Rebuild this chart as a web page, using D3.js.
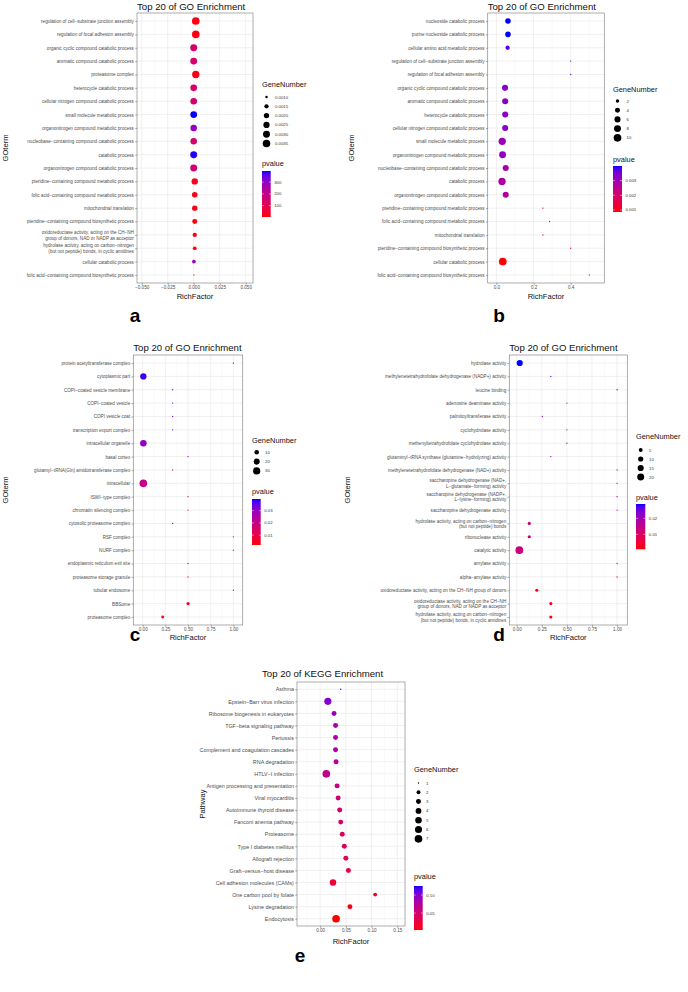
<!DOCTYPE html>
<html><head><meta charset="utf-8">
<script src="https://cdn.jsdelivr.net/npm/d3@7"></script>
<style>body{margin:0;background:#fff}svg{display:block}text{font-family:"Liberation Sans",Arial,Helvetica,sans-serif}</style>
</head><body><svg id="c" width="688" height="992"></svg>
<script>
// ---------- DATA ----------
const aTerms = ["regulation of cell−substrate junction assembly","regulation of focal adhesion assembly","organic cyclic compound catabolic process","aromatic compound catabolic process","proteasome complex","heterocycle catabolic process","cellular nitrogen compound catabolic process","small molecule metabolic process","organonitrogen compound metabolic process","nucleobase−containing compound catabolic process","catabolic process","organonitrogen compound catabolic process","pteridine−containing compound metabolic process","folic acid−containing compound metabolic process","mitochondrial translation","pteridine−containing compound biosynthetic process","oxidoreductase activity, acting on the CH−NH\ngroup of donors, NAD or NADP as acceptor","hydrolase activity, acting on carbon−nitrogen\n(but not peptide) bonds, in cyclic amidines","cellular catabolic process","folic acid−containing compound biosynthetic process"];
const aRichFactor = [0.002,0.002,0,0,0.002,0,0,0,0,0,0,0,0.001,0.001,0.001,0.001,0.001,0.001,0.0002,0.0002];
const aGeneNumber = [0.0036,0.0035,0.0030,0.0030,0.0033,0.0028,0.0028,0.0029,0.0027,0.0027,0.0030,0.0030,0.0026,0.0021,0.0020,0.0018,0.0015,0.0013,0.0013,0.0009];
const aPvalue = [10,15,150,150,20,140,145,395,300,150,390,160,30,20,20,10,10,8,290,3];
const aXTicks = [-0.05,-0.025,0,0.025,0.05];
const aXTickLabels = ["−0.050","−0.025","0.000","0.025","0.050"];
const aSizeBreaks = [0.0010,0.0015,0.0020,0.0025,0.0030,0.0035];
const aSizeLabels = ["0.0010","0.0015","0.0020","0.0025","0.0030","0.0035"];
const aColorBreaks = [100,200,300];
const aColorLabels = ["100","200","300"];

const bTerms = ["nucleoside catabolic process","purine nucleoside catabolic process","cellular amino acid metabolic process","regulation of cell−substrate junction assembly","regulation of focal adhesion assembly","organic cyclic compound catabolic process","aromatic compound catabolic process","heterocycle catabolic process","cellular nitrogen compound catabolic process","small molecule metabolic process","organonitrogen compound metabolic process","nucleobase−containing compound catabolic process","catabolic process","organonitrogen compound catabolic process","pteridine−containing compound metabolic process","folic acid−containing compound metabolic process","mitochondrial translation","pteridine−containing compound biosynthetic process","cellular catabolic process","folic acid−containing compound biosynthetic process"];
const bRichFactor = [0.062,0.062,0.06,0.40,0.40,0.046,0.047,0.047,0.047,0.031,0.033,0.05,0.03,0.05,0.25,0.286,0.25,0.40,0.034,0.50];
const bGeneNumber = [5,5,3,1,1,6,6,6,6,9,8,6,9,6,1,1,1,1,10,1];
const bPvalue = [0.0040,0.0040,0.0037,0.0036,0.0036,0.0033,0.0033,0.0033,0.0033,0.0031,0.0032,0.0029,0.0028,0.0027,0.0018,0.0016,0.0018,0.0012,0.00086,0.0009];
const bXTicks = [0,0.2,0.4];
const bXTickLabels = ["0.0","0.2","0.4"];
const bSizeBreaks = [2,4,6,8,10];
const bSizeLabels = ["2","4","6","8","10"];
const bColorBreaks = [0.001,0.002,0.003];
const bColorLabels = ["0.001","0.002","0.003"];

const cTerms = ["protein acetyltransferase complex","cytoplasmic part","COPI−coated vesicle membrane","COPI−coated vesicle","COPI vesicle coat","transcription export complex","intracellular organelle","basal cortex","glutamyl−tRNA(Gln) amidotransferase complex","intracellular","ISWI−type complex","chromatin silencing complex","cytosolic proteasome complex","RSF complex","NURF complex","endoplasmic reticulum exit site","proteasome storage granule","tubular endosome","BBSome","proteasome complex"];
const cRichFactor = [1,0.007,0.33,0.33,0.33,0.33,0.007,0.5,0.33,0.007,0.5,0.5,0.33,1,1,0.5,0.5,1,0.5,0.22];
const cGeneNumber = [1,22,1,1,1,1,24,1,1,35,1,1,1,1,1,1,1,1,4,3];
const cPvalue = [0.0395,0.038,0.033,0.033,0.033,0.031,0.030,0.025,0.020,0.020,0.018,0.018,0.015,0.012,0.012,0.012,0.012,0.012,0.005,0.002];
const cXTicks = [0,0.25,0.5,0.75,1];
const cXTickLabels = ["0.00","0.25","0.50","0.75","1.00"];
const cSizeBreaks = [10,20,30];
const cSizeLabels = ["10","20","30"];
const cColorBreaks = [0.01,0.02,0.03];
const cColorLabels = ["0.01","0.02","0.03"];

const dTerms = ["hydrolase activity","methylenetetrahydrofolate dehydrogenase (NADP+) activity","leucine binding","adenosine deaminase activity","palmitoyltransferase activity","cyclohydrolase activity","methenyltetrahydrofolate cyclohydrolase activity","glutaminyl−tRNA synthase (glutamine−hydrolyzing) activity","methylenetetrahydrofolate dehydrogenase (NAD+) activity","saccharopine dehydrogenase (NAD+,\nL−glutamate−forming) activity","saccharopine dehydrogenase (NADP+,\nL−lysine−forming) activity","saccharopine dehydrogenase activity","hydrolase activity, acting on carbon−nitrogen\n(but not peptide) bonds","ribonuclease activity","catalytic activity","amylase activity","alpha−amylase activity","oxidoreductase activity, acting on the CH−NH group of donors","oxidoreductase activity, acting on the CH−NH\ngroup of donors, NAD or NADP as acceptor","hydrolase activity, acting on carbon−nitrogen\n(but not peptide) bonds, in cyclic amidines"];
const dRichFactor = [0.03,0.34,1,0.5,0.255,0.5,0.5,0.34,1,1,1,1,0.125,0.125,0.026,1,1,0.2,0.34,0.34];
const dGeneNumber = [15,1,1,1,1,1,1,1,1,1,1,1,3,3,25,1,1,3,3,3];
const dPvalue = [0.029,0.025,0.025,0.022,0.022,0.022,0.022,0.022,0.018,0.018,0.018,0.018,0.013,0.013,0.013,0.009,0.009,0.001,0.0008,0.0006];
const dXTicks = [0,0.25,0.5,0.75,1];
const dXTickLabels = ["0.00","0.25","0.50","0.75","1.00"];
const dSizeBreaks = [5,10,15,20];
const dSizeLabels = ["5","10","15","20"];
const dColorBreaks = [0.01,0.02];
const dColorLabels = ["0.01","0.02"];

const ePathways = ["Asthma","Epstein−Barr virus infection","Ribosome biogenesis in eukaryotes","TGF−beta signaling pathway","Pertussis","Complement and coagulation cascades","RNA degradation","HTLV−I infection","Antigen processing and presentation","Viral myocarditis","Autoimmune thyroid disease","Fanconi anemia pathway","Proteasome","Type I diabetes mellitus","Allograft rejection","Graft−versus−host disease","Cell adhesion molecules (CAMs)","One carbon pool by folate","Lysine degradation","Endocytosis"];
const eRichFactor = [0.04,0.015,0.027,0.03,0.03,0.03,0.031,0.012,0.033,0.035,0.038,0.04,0.043,0.047,0.05,0.055,0.025,0.107,0.058,0.031];
const eGeneNumber = [1,6,3,3,3,3,3,7,3,3,3,3,3,3,3,3,5,2,3,7];
const ePvalue = [0.125,0.10,0.09,0.085,0.08,0.075,0.07,0.065,0.06,0.055,0.05,0.045,0.04,0.035,0.03,0.028,0.02,0.015,0.01,0.003];
const eXTicks = [0,0.05,0.1,0.15];
const eXTickLabels = ["0.00","0.05","0.10","0.15"];
const eSizeBreaks = [1,2,3,4,5,6,7];
const eSizeLabels = ["1","2","3","4","5","6","7"];
const eColorBreaks = [0.05,0.10];
const eColorLabels = ["0.05","0.10"];

// ---------- DRAW ----------
const svg = d3.select("#c");
svg.append("rect").attr("width",688).attr("height",992).attr("fill","#fff");
const defs = svg.append("defs");
let gradId = 0;

function drawPanel(cfg) {
  const n = cfg.labels.length;
  const g = svg.append("g");
  const x = d3.scaleLinear().domain(cfg.xDomain).range([cfg.l, cfg.r]);
  const y = d3.scalePoint().domain(d3.range(n)).range([cfg.t, cfg.b]).padding(0.6);
  const sMin = d3.min(cfg.gene), sMax = d3.max(cfg.gene);
  const K = cfg.k || 0.64;
  const rad = v => K * (1 + 5 * Math.sqrt(Math.max(0, (v - sMin) / (sMax - sMin))));
  const pExt = d3.extent(cfg.p);
  const col = d3.scaleLinear().domain(pExt).range(["red", "blue"]).interpolate(d3.interpolateLab);

  g.append("rect").attr("x", cfg.l).attr("y", cfg.t).attr("width", cfg.r - cfg.l).attr("height", cfg.b - cfg.t).attr("fill", "#fff");
  const minor = [];
  for (let i = 0; i < cfg.xTicks.length - 1; i++) minor.push((cfg.xTicks[i] + cfg.xTicks[i + 1]) / 2);
  const step = cfg.xTicks[1] - cfg.xTicks[0];
  minor.push(cfg.xTicks[0] - step / 2, cfg.xTicks[cfg.xTicks.length - 1] + step / 2);
  g.selectAll(".mn").data(minor.filter(v => x(v) > cfg.l && x(v) < cfg.r)).enter().append("line")
    .attr("x1", d => x(d)).attr("x2", d => x(d)).attr("y1", cfg.t).attr("y2", cfg.b)
    .attr("stroke", "#f3f3f3").attr("stroke-width", 0.4);
  g.selectAll(".mj").data(cfg.xTicks).enter().append("line")
    .attr("x1", d => x(d)).attr("x2", d => x(d)).attr("y1", cfg.t).attr("y2", cfg.b)
    .attr("stroke", "#e6e6e6").attr("stroke-width", 0.6);
  g.selectAll(".hy").data(d3.range(n)).enter().append("line")
    .attr("x1", cfg.l).attr("x2", cfg.r).attr("y1", d => y(d)).attr("y2", d => y(d))
    .attr("stroke", "#e6e6e6").attr("stroke-width", 0.6);

  g.selectAll(".pt").data(d3.range(n)).enter().append("circle")
    .attr("cx", i => x(cfg.rich[i])).attr("cy", i => y(i)).attr("r", i => rad(cfg.gene[i]))
    .attr("fill", i => col(cfg.p[i]));

  g.append("rect").attr("x", cfg.l).attr("y", cfg.t).attr("width", cfg.r - cfg.l).attr("height", cfg.b - cfg.t)
    .attr("fill", "none").attr("stroke", "#8a8a8a").attr("stroke-width", 0.7);

  const ya = g.append("g").attr("transform", `translate(${cfg.l},0)`)
    .call(d3.axisLeft(y).tickSize(1.8).tickPadding(1.3).tickFormat(i => cfg.labels[i]));
  ya.select(".domain").remove();
  ya.selectAll("line").attr("stroke", "#555").attr("stroke-width", 0.5);
  ya.selectAll("text").attr("font-size", cfg.ySize).attr("fill", "#4d4d4d").each(function (i) {
    const lines = cfg.labels[i].split("\n");
    if (lines.length > 1) {
      const t = d3.select(this); t.text(null);
      const lh = cfg.ySize * 1.22;
      lines.forEach((ln, k) => {
        t.append("tspan").attr("x", t.attr("x")).attr("dy", k === 0 ? (0.32 - (lines.length - 1) * 0.5 * 1.22) + "em" : lh)
          .text(ln);
      });
      t.attr("dy", null);
    }
  });

  const xa = g.append("g").attr("transform", `translate(0,${cfg.b})`)
    .call(d3.axisBottom(x).tickValues(cfg.xTicks).tickSize(1.8).tickPadding(1.2).tickFormat((d, i) => cfg.xLabels[i]));
  xa.select(".domain").remove();
  xa.selectAll("line").attr("stroke", "#555").attr("stroke-width", 0.5);
  xa.selectAll("text").attr("font-size", cfg.xSize).attr("fill", "#4d4d4d");

  g.append("text").attr("x", cfg.titleX != null ? cfg.titleX : cfg.l).attr("y", cfg.titleY).attr("font-size", cfg.titleSize).attr("fill", "#111").text(cfg.title);
  g.append("text").attr("x", (cfg.l + cfg.r) / 2).attr("y", cfg.xTitleY).attr("text-anchor", "middle")
    .attr("font-size", cfg.axTitleSize).attr("fill", "#111").text("RichFactor");
  g.append("text").attr("transform", `translate(${cfg.yTitleX},${(cfg.t + cfg.b) / 2}) rotate(-90)`).attr("text-anchor", "middle")
    .attr("font-size", cfg.axTitleSize).attr("fill", "#111").text(cfg.yTitle);

  const L = cfg.leg;
  g.append("text").attr("x", L.x).attr("y", L.gnTitleY).attr("font-size", cfg.legTitleSize).attr("fill", "#111").text("GeneNumber");
  cfg.sizeBreaks.forEach((v, i) => {
    const yy = L.key0 + i * L.keyStep;
    g.append("circle").attr("cx", L.x + L.dotDx).attr("cy", yy).attr("r", rad(v)).attr("fill", "#000");
    g.append("text").attr("x", L.x + L.labDx).attr("y", yy).attr("dy", "0.35em").attr("font-size", cfg.legLabSize).attr("fill", "#333").text(cfg.sizeLabels[i]);
  });

  g.append("text").attr("x", L.x).attr("y", L.pTitleY).attr("font-size", cfg.legTitleSize).attr("fill", "#111").text("pvalue");
  const id = "grad" + (gradId++);
  const lg = defs.append("linearGradient").attr("id", id).attr("x1", 0).attr("y1", 1).attr("x2", 0).attr("y2", 0);
  d3.range(0, 1.0001, 0.05).forEach(t => lg.append("stop").attr("offset", t).attr("stop-color", col(pExt[0] + t * (pExt[1] - pExt[0]))));
  const bw = L.barW;
  g.append("rect").attr("x", L.x).attr("y", L.barTop).attr("width", bw).attr("height", L.barBot - L.barTop).attr("fill", `url(#${id})`);
  const cy = d3.scaleLinear().domain(pExt).range([L.barBot, L.barTop]);
  cfg.colorBreaks.forEach((v, i) => {
    const yy = cy(v);
    g.append("line").attr("x1", L.x).attr("x2", L.x + bw * 0.2).attr("y1", yy).attr("y2", yy).attr("stroke", "#fff").attr("stroke-width", 0.5);
    g.append("line").attr("x1", L.x + bw * 0.8).attr("x2", L.x + bw).attr("y1", yy).attr("y2", yy).attr("stroke", "#fff").attr("stroke-width", 0.5);
    g.append("text").attr("x", L.x + bw + 3.5).attr("y", yy).attr("dy", "0.35em").attr("font-size", cfg.legLabSize).attr("fill", "#333").text(cfg.colorLabels[i]);
  });

  svg.append("text").attr("x", cfg.letter[1]).attr("y", cfg.letter[2]).attr("text-anchor", "middle")
    .attr("font-size", 19).attr("font-weight", "bold").attr("fill", "#000").text(cfg.letter[0]);
}

const common = { ySize: 4.6, xSize: 4.6, titleSize: 9.6, axTitleSize: 7.6, legTitleSize: 7.4, legLabSize: 4.3 };

drawPanel(Object.assign({}, common, {
  labels: aTerms, rich: aRichFactor, gene: aGeneNumber, p: aPvalue,
  xDomain: [-0.0545, 0.057], xTicks: aXTicks, xLabels: aXTickLabels,
  l: 137, r: 253, t: 13, b: 283, titleY: 10, xTitleY: 298.5, yTitleX: 8, yTitle: "GOterm",
  title: "Top 20 of GO Enrichment",
  sizeBreaks: aSizeBreaks, sizeLabels: aSizeLabels, colorBreaks: aColorBreaks, colorLabels: aColorLabels,
  leg: { x: 262, gnTitleY: 87, key0: 97, keyStep: 9.3, dotDx: 4.5, labDx: 13, pTitleY: 166, barTop: 171, barBot: 217, barW: 8.7 },
  letter: ["a", 135, 322]
}));

drawPanel(Object.assign({}, common, {
  labels: bTerms, rich: bRichFactor, gene: bGeneNumber, p: bPvalue,
  xDomain: [-0.0472, 0.581], xTicks: bXTicks, xLabels: bXTickLabels,
  l: 487.7, r: 604.3, t: 13, b: 283, titleY: 10, xTitleY: 298.5, yTitleX: 354, yTitle: "GOterm",
  title: "Top 20 of GO Enrichment",
  sizeBreaks: bSizeBreaks, sizeLabels: bSizeLabels, colorBreaks: bColorBreaks, colorLabels: bColorLabels,
  leg: { x: 613, gnTitleY: 92, key0: 101, keyStep: 9.2, dotDx: 4.5, labDx: 13.5, pTitleY: 161.5, barTop: 166, barBot: 212, barW: 9 },
  letter: ["b", 499, 322]
}));

drawPanel(Object.assign({}, common, {
  labels: cTerms, rich: cRichFactor, gene: cGeneNumber, p: cPvalue,
  xDomain: [-0.104, 1.103], xTicks: cXTicks, xLabels: cXTickLabels,
  l: 133.3, r: 242.7, t: 355, b: 625, titleY: 351, xTitleY: 640, yTitleX: 8, yTitle: "GOterm",
  title: "Top 20 of GO Enrichment",
  sizeBreaks: cSizeBreaks, sizeLabels: cSizeLabels, colorBreaks: cColorBreaks, colorLabels: cColorLabels,
  leg: { x: 252, gnTitleY: 443, key0: 452.3, keyStep: 9.3, dotDx: 4.7, labDx: 13, pTitleY: 494, barTop: 499, barBot: 545, barW: 8.7 },
  letter: ["c", 135, 641]
}));

drawPanel(Object.assign({}, common, {
  labels: dTerms, rich: dRichFactor, gene: dGeneNumber, p: dPvalue,
  xDomain: [-0.074, 1.102], xTicks: dXTicks, xLabels: dXTickLabels,
  l: 509.3, r: 627.3, t: 355, b: 625, titleY: 351, xTitleY: 640, yTitleX: 350, yTitle: "GOterm",
  title: "Top 20 of GO Enrichment",
  sizeBreaks: dSizeBreaks, sizeLabels: dSizeLabels, colorBreaks: dColorBreaks, colorLabels: dColorLabels,
  leg: { x: 636, gnTitleY: 438.5, key0: 450, keyStep: 9, dotDx: 4.7, labDx: 13, pTitleY: 499.5, barTop: 504, barBot: 549.3, barW: 9.3 },
  letter: ["d", 499, 641]
}));

drawPanel(Object.assign({}, common, {
  labels: ePathways, rich: eRichFactor, gene: eGeneNumber, p: ePvalue,
  xDomain: [-0.045, 0.165], xTicks: eXTicks, xLabels: eXTickLabels, ySize: 5.4,
  l: 297, r: 405, t: 682, b: 926, titleY: 677, titleX: 262, xTitleY: 944, yTitleX: 205, yTitle: "Pathway",
  title: "Top 20 of KEGG Enrichment",
  sizeBreaks: eSizeBreaks, sizeLabels: eSizeLabels, colorBreaks: eColorBreaks, colorLabels: eColorLabels,
  leg: { x: 414, gnTitleY: 772, key0: 783, keyStep: 9.3, dotDx: 4.5, labDx: 12, pTitleY: 879, barTop: 886, barBot: 930, barW: 8.7 },
  letter: ["e", 300, 962]
}));
</script>
</body></html>
